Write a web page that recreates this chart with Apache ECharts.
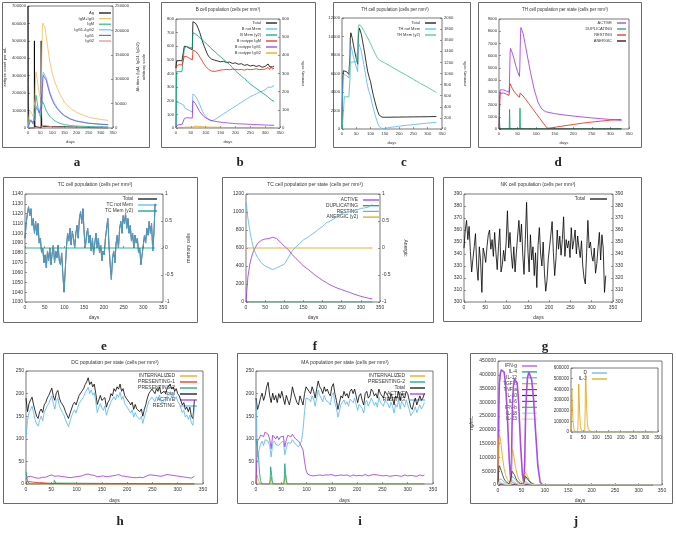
<!DOCTYPE html>
<html><head><meta charset="utf-8">
<script src="https://cdn.jsdelivr.net/npm/echarts@6/dist/echarts.min.js"></script>
<style>html,body{margin:0;padding:0;background:#fff}#c{width:676px;height:534px}</style>
</head><body><div id="c"></div>
<script>
// ---------- panel a : antigen and antibodies ----------
const aAgDay = [0, 0.6, 1.5, 3, 26, 26.4, 27.2, 28.5, 30, 54, 54.4, 55.2, 56.5, 58, 330];
const aAg = [700000, 250000, 30000, 0, 0, 500000, 150000, 10000, 0, 0, 500000, 150000, 10000, 0, 0];
const aAbDay = [0, 3, 6, 9, 12, 15, 18, 21, 24, 27, 29, 31, 33, 35, 38, 41, 44, 47, 50, 53, 55, 57, 59, 61, 63, 66, 70, 75, 80, 90, 100, 110, 120, 135, 150, 175, 200, 250, 300, 330];
const aIgMIgG = [0, 15000, 30000, 35000, 34000, 30000, 26000, 24000, 23000, 25000, 60000, 100000, 115000, 112000, 100000, 88000, 78000, 70000, 64000, 60000, 70000, 150000, 200000, 215000, 218000, 214000, 205000, 188000, 170000, 135000, 112000, 95000, 82000, 66000, 53000, 40000, 32000, 22000, 17500, 15500];
const aIgM = [0, 8000, 17000, 18000, 16000, 13000, 10000, 8000, 7000, 8000, 35000, 60000, 67000, 63000, 52000, 42000, 34000, 28000, 24000, 21000, 25000, 45000, 55000, 55000, 52000, 48000, 42000, 36000, 31000, 24000, 19000, 15000, 12000, 9000, 7000, 5000, 4000, 3000, 2500, 2300];
const aIgG12 = [0, 5000, 12000, 16000, 17000, 16000, 14000, 12000, 11000, 12000, 20000, 38000, 46000, 47000, 44000, 40000, 36000, 33000, 31000, 29000, 32000, 55000, 85000, 105000, 114000, 116000, 112000, 103000, 93000, 74000, 60000, 50000, 42000, 33000, 26000, 19000, 14500, 10000, 8000, 7000];
const aIgG1 = [0, 4000, 10000, 14000, 15000, 14000, 12500, 11000, 10000, 11000, 18000, 34000, 42000, 43000, 41000, 37000, 34000, 31000, 29000, 27000, 30000, 50000, 80000, 100000, 108000, 110000, 106000, 98000, 88000, 70000, 57000, 47000, 40000, 31000, 25000, 18000, 14000, 9500, 7600, 6800];
const aIgG2 = [0, 0, 500, 800, 800, 700, 600, 500, 500, 500, 800, 1500, 2000, 2200, 2200, 2000, 1800, 1600, 1500, 1400, 1600, 3000, 4500, 5200, 5500, 5400, 5000, 4500, 4000, 3200, 2600, 2100, 1800, 1400, 1100, 800, 600, 400, 300, 300];

// ---------- panel b : B cells ----------
const bDay = [0, 1, 2, 5, 10, 15, 20, 25, 27, 28, 30, 35, 40, 45, 50, 55, 56, 57, 60, 65, 70, 75, 80, 85, 90, 95, 100, 105, 110, 115, 120, 125, 130, 140, 150, 160, 170, 180, 190, 200, 210, 220, 230, 240, 250, 260, 270, 280, 290, 300, 305, 310, 315, 320, 325, 330];
const bTotal = [440, 470, 490, 495, 495, 495, 493, 492, 492, 600, 605, 598, 590, 585, 580, 575, 700, 780, 778, 770, 755, 730, 700, 665, 630, 600, 573, 545, 525, 512, 505, 500, 498, 492, 486, 490, 480, 484, 474, 478, 468, 472, 460, 465, 455, 460, 452, 458, 446, 452, 455, 470, 450, 462, 448, 455];
const bNotMem = [0, 190, 190, 188, 185, 180, 176, 170, 166, 150, 145, 140, 135, 128, 122, 118, 200, 250, 245, 235, 218, 195, 170, 145, 120, 100, 85, 72, 62, 55, 52, 55, 62, 75, 90, 105, 118, 132, 146, 160, 174, 188, 202, 216, 230, 240, 250, 262, 270, 280, 290, 300, 310, 298, 305, 312];
const bMem = [0, 150, 310, 310, 310, 310, 310, 310, 310, 440, 450, 448, 446, 444, 442, 440, 500, 525, 523, 518, 512, 505, 498, 490, 482, 475, 468, 460, 452, 444, 436, 428, 420, 406, 392, 378, 364, 350, 332, 315, 300, 286, 272, 258, 242, 230, 218, 206, 194, 183, 177, 170, 163, 156, 151, 146];
const bIgM = [440, 455, 465, 465, 465, 463, 462, 460, 460, 525, 530, 525, 518, 512, 505, 500, 540, 570, 568, 565, 555, 540, 522, 505, 485, 468, 452, 440, 430, 422, 418, 416, 415, 420, 425, 428, 430, 428, 432, 430, 428, 430, 425, 432, 428, 430, 435, 428, 430, 432, 440, 445, 430, 450, 432, 440];
const bIgG1 = [0, 15, 25, 25, 25, 25, 25, 25, 25, 70, 75, 75, 75, 74, 74, 73, 150, 200, 195, 180, 160, 140, 120, 105, 92, 82, 74, 68, 62, 58, 55, 52, 50, 46, 43, 40, 38, 36, 34, 32, 31, 30, 29, 28, 27, 26, 25, 24, 23, 22, 22, 21, 21, 20, 20, 20];
const bIgG2 = [0, 0, 2, 3, 3, 3, 3, 3, 3, 5, 6, 6, 6, 6, 6, 6, 10, 15, 15, 14, 13, 12, 11, 10, 9, 8, 8, 7, 7, 6, 6, 6, 5, 5, 5, 4, 4, 4, 4, 3, 3, 3, 3, 3, 3, 3, 2, 2, 2, 2, 2, 2, 2, 2, 2, 2];

// ---------- panel c : TH cells ----------
const cDay = [0, 1, 3, 5, 8, 12, 16, 20, 24, 27, 28, 29, 31, 33, 36, 40, 45, 50, 55, 56, 57, 59, 61, 64, 68, 72, 76, 80, 85, 90, 95, 100, 105, 110, 115, 120, 125, 130, 135, 140, 150, 175, 200, 225, 250, 275, 300, 330];
const cTotal = [0, 2500, 5500, 6300, 6400, 6300, 6200, 6000, 5900, 5800, 8000, 9800, 10400, 10300, 9800, 9100, 8300, 7600, 7000, 8500, 9800, 10600, 10900, 10700, 10200, 9500, 8800, 8100, 7100, 6200, 5600, 5100, 4300, 3600, 3000, 2400, 1900, 1500, 1300, 1280, 1270, 1280, 1290, 1300, 1310, 1320, 1330, 1350];
const cNotMem = [0, 2300, 5200, 5900, 6000, 5900, 5800, 5600, 5500, 5400, 7200, 8600, 9000, 8900, 8400, 7800, 7200, 6700, 6200, 7600, 8700, 9200, 9300, 8800, 8350, 7700, 7000, 6350, 5400, 4550, 4000, 3550, 2800, 2200, 1600, 1100, 650, 280, 90, 60, 80, 200, 300, 400, 480, 560, 640, 720];
const cMem = [0, 0, 0, 300, 580, 580, 580, 580, 580, 580, 900, 1200, 1210, 1210, 1210, 1210, 1210, 1210, 1210, 1500, 1800, 1880, 1890, 1875, 1850, 1815, 1775, 1735, 1690, 1640, 1590, 1540, 1480, 1420, 1370, 1320, 1270, 1245, 1230, 1220, 1190, 1115, 1040, 970, 895, 820, 750, 660];

// ---------- panel d : TH per state ----------
const dDay = [0, 1, 2, 3, 4, 5, 8, 12, 16, 20, 24, 27, 28, 29, 30, 31, 33, 36, 40, 45, 50, 55, 56, 57, 58, 59, 60, 62, 65, 70, 75, 80, 85, 90, 95, 100, 105, 110, 115, 120, 125, 130, 140, 150, 175, 200, 225, 250, 275, 300, 330];
const dActive = [0, 1000, 2500, 3200, 3300, 3300, 3250, 3200, 3150, 3100, 3050, 3000, 3500, 5000, 6300, 6600, 6500, 6200, 5800, 5200, 4700, 4300, 5000, 6500, 7800, 8300, 8400, 8200, 7800, 7000, 6200, 5400, 4600, 3900, 3200, 2700, 2200, 1900, 1650, 1500, 1420, 1380, 1320, 1260, 1150, 1060, 980, 910, 840, 780, 700];
const dResting = [0, 800, 2200, 2900, 3050, 3050, 3000, 2950, 2900, 2850, 2800, 2750, 3000, 3500, 3700, 3650, 3500, 3300, 3100, 2900, 2750, 2600, 2700, 2950, 3000, 2950, 2900, 2830, 2700, 2500, 2300, 2090, 1890, 1680, 1480, 1270, 1060, 860, 650, 450, 250, 70, 90, 140, 260, 370, 480, 570, 650, 720, 790];
const dDupDay = [0, 1, 2, 3, 27.5, 28.5, 29.5, 30.5, 55.5, 56.5, 57.5, 58.5, 330];
const dDup = [0, 900, 300, 0, 0, 1600, 200, 0, 0, 1700, 200, 0, 0];
const dAnerDay = [0, 1, 2, 4, 28, 29, 30, 32, 56, 57, 58, 60, 330];
const dAner = [0, 150, 100, 0, 0, 120, 60, 0, 0, 120, 60, 0, 0];

// ---------- panel e : TC cells (sampled every 3 days) ----------
const eNotMem = [1095, 1110, 1120, 1127, 1118, 1125, 1108, 1115, 1100, 1112,
  1098, 1110, 1090, 1095, 1080, 1085, 1070, 1078, 1065, 1082,
  1072, 1085, 1068, 1080, 1088, 1070, 1082, 1075, 1088, 1072,
  1068, 1080, 1058, 1040, 1062, 1085, 1100, 1092, 1105, 1088,
  1102, 1095, 1085, 1100, 1108, 1095, 1115, 1122, 1110, 1125,
  1100, 1085, 1098, 1105, 1090, 1098, 1082, 1095, 1078, 1090,
  1100, 1085, 1095, 1080, 1088, 1072, 1082, 1078, 1095, 1105,
  1115, 1088, 1068, 1053, 1075, 1082, 1070, 1090, 1098, 1085,
  1105, 1112, 1100, 1118, 1110, 1120, 1105, 1115, 1100, 1108,
  1092, 1100, 1085, 1098, 1090, 1095, 1080, 1085, 1068, 1078,
  1088, 1098, 1090, 1105, 1098, 1112, 1100, 1110, 1082, 1100,
  1130];
const eMemDay = [0, 330];
const eMem = [0, 0];

// ---------- panel f : TC per state ----------
const fDay = [0, 2, 5, 10, 15, 20, 25, 30, 40, 50, 60, 70, 80, 90, 100, 110, 120, 130, 140, 150, 160, 170, 180, 190, 200, 210, 215, 220, 230, 240, 250, 260, 270, 280, 290, 300, 310, 320, 330];
const fActive = [0, 120, 280, 420, 510, 570, 610, 650, 685, 700, 705, 720, 705, 665, 620, 585, 530, 485, 445, 400, 370, 335, 300, 270, 240, 215, 205, 190, 170, 152, 137, 122, 107, 92, 77, 63, 52, 42, 35];
const fResting = [1100, 1050, 930, 790, 680, 590, 540, 495, 435, 400, 380, 360, 380, 400, 420, 490, 565, 610, 650, 690, 715, 745, 775, 810, 840, 880, 860, 900, 925, 955, 985, 995, 1005, 1015, 1025, 1040, 1045, 1055, 1085];
const fFlatDay = [0, 330];
const fDup = [0, 0];
const fAner = [0, 0];

// ---------- panel g : NK cells (every 3 days) ----------
const gTotal = [345, 360, 368, 352, 363, 342, 325, 336, 346, 357,
  330, 318, 346, 334, 308, 345, 340, 333, 346, 356,
  360, 344, 352, 338, 358, 341, 327, 346, 361, 325,
  331, 343, 334, 350, 376, 345, 358, 340, 328, 346,
  325, 341, 355, 368, 350, 365, 340, 323, 352, 383,
  344, 325, 356, 335, 346, 322, 341, 312, 347, 362,
  340, 330, 350, 324, 309, 318, 336, 346, 356, 367,
  341, 322, 336, 360, 344, 355, 339, 352, 371, 338,
  352, 345, 351, 337, 362, 344, 351, 360, 340, 355,
  345, 337, 351, 330, 320, 315, 341, 368, 345, 350,
  339, 334, 345, 324, 332, 346, 358, 335, 356, 345,
  308, 322];

// ---------- panel h : DC per state (every 3 days) ----------
const hTotal = [190, 160, 178, 186, 192, 175, 162, 150, 145, 160,
  166, 158, 175, 180, 190, 196, 200, 212, 195, 185,
  202, 207, 190, 181, 176, 170, 160, 156, 145, 156,
  166, 176, 181, 175, 186, 196, 200, 206, 211, 220,
  226, 235, 220, 226, 215, 221, 200, 176, 186, 196,
  185, 181, 191, 170, 181, 186, 200, 195, 211, 205,
  215, 210, 221, 205, 211, 196, 190, 186, 181, 175,
  181, 165, 176, 166, 170, 160, 166, 150, 165, 176,
  190, 200, 205, 210, 205, 200, 211, 205, 215, 200,
  196, 205, 200, 211, 215, 221, 210, 215, 205, 211,
  200, 195, 185, 175, 180, 165, 170, 160, 170, 150,
  145, 185];
const hResting = [105, 140, 158, 165, 172, 158, 142, 133, 128, 141,
  150, 140, 158, 162, 173, 178, 182, 195, 178, 166,
  185, 190, 172, 165, 158, 153, 142, 140, 127, 138,
  150, 158, 164, 157, 168, 178, 183, 188, 193, 202,
  208, 214, 200, 208, 197, 202, 182, 158, 170, 178,
  168, 163, 173, 152, 164, 168, 182, 178, 193, 186,
  198, 192, 203, 187, 194, 178, 173, 168, 164, 157,
  164, 148, 158, 150, 153, 143, 150, 134, 148, 158,
  172, 183, 187, 192, 188, 182, 193, 188, 197, 183,
  178, 188, 183, 193, 197, 203, 192, 198, 187, 193,
  183, 178, 168, 158, 163, 148, 153, 143, 152, 135,
  130, 170];
const hActive = [10, 16, 18, 17, 18, 15, 14, 13, 12, 13,
  14, 15, 16, 15, 17, 18, 19, 20, 18, 17,
  19, 18, 16, 17, 15, 16, 14, 15, 13, 14,
  16, 15, 17, 16, 18, 17, 19, 18, 20, 21,
  23, 22, 21, 20, 18, 19, 17, 16, 18, 17,
  16, 18, 17, 16, 18, 17, 19, 18, 20, 19,
  20, 21, 19, 18, 19, 17, 18, 16, 17, 15,
  16, 14, 15, 14, 16, 15, 13, 14, 16, 17,
  19, 20, 19, 20, 18, 19, 20, 18, 19, 17,
  18, 19, 20, 21, 19, 20, 22, 19, 20, 18,
  19, 17, 18, 16, 17, 15, 16, 14, 15, 13,
  14, 17];
const hPres2Day = [0, 1, 2, 4, 6, 8, 27, 28, 29, 31, 33, 55, 56, 57, 59, 61, 333];
const hPres2 = [27, 22, 12, 4, 1, 0, 0, 4, 3, 1, 0, 0, 8, 6, 2, 0, 0];
const hPres1Day = [0, 1, 3, 8, 15, 25, 30, 40, 50, 60, 80, 100, 333];
const hPres1 = [0, 5, 6, 5, 4, 3, 3, 2, 1.5, 1, 0.5, 0, 0];
const hIntDay = [0, 1, 2, 4, 28, 29, 31, 56, 57, 59, 333];
const hInt = [0, 3, 1, 0, 0, 2, 0, 0, 2, 0, 0];

// ---------- panel i : MA per state (every 3 days) ----------
const iTotal = [190, 165, 176, 191, 201, 185, 196, 215, 225, 196,
  180, 201, 186, 196, 180, 200, 190, 205, 190, 176,
  196, 185, 175, 191, 215, 201, 190, 180, 175, 195,
  185, 175, 200, 215, 210, 205, 200, 215, 205, 190,
  210, 228, 215, 210, 200, 215, 205, 210, 200, 195,
  215, 222, 200, 185, 165, 180, 195, 190, 205, 195,
  200, 190, 205, 210, 200, 210, 195, 180, 195, 200,
  185, 175, 200, 205, 190, 195, 210, 205, 195, 200,
  190, 210, 200, 195, 190, 205, 200, 195, 185, 200,
  190, 175, 195, 190, 205, 185, 200, 195, 190, 205,
  200, 185, 170, 165, 180, 190, 175, 185, 195, 185,
  190, 200];
const iActive = [0, 95, 100, 108, 112, 105, 115, 118, 110, 100,
  78, 108, 112, 100, 106, 98, 104, 102, 106, 82,
  98, 108, 112, 104, 110, 105, 100, 96, 95, 90,
  88, 75, 50, 30, 22, 20, 19, 21, 18, 20,
  19, 21, 20, 18, 19, 21, 20, 19, 20, 22,
  21, 19, 18, 17, 19, 18, 20, 17, 19, 18,
  20, 19, 17, 18, 20, 19, 18, 17, 19, 20,
  18, 19, 21, 20, 18, 19, 20, 22, 21, 19,
  20, 18, 19, 17, 18, 20, 19, 18, 17, 19,
  18, 17, 19, 20, 18, 19, 17, 18, 20, 19,
  18, 20, 19, 17, 18, 19, 17, 18, 20, 19,
  18, 20];
const iResting = [185, 60, 75, 88, 95, 85, 98, 100, 95, 85,
  60, 90, 95, 88, 92, 85, 90, 92, 95, 65,
  80, 92, 95, 90, 98, 95, 88, 85, 82, 80,
  95, 120, 160, 190, 192, 188, 182, 195, 188, 172,
  190, 208, 196, 190, 182, 196, 186, 190, 180, 175,
  196, 202, 180, 168, 148, 162, 176, 172, 186, 176,
  182, 172, 188, 192, 180, 190, 176, 163, 176, 180,
  167, 157, 180, 185, 172, 176, 190, 183, 174, 181,
  170, 192, 181, 178, 172, 185, 181, 177, 168, 181,
  172, 157, 176, 170, 187, 166, 183, 177, 170, 186,
  182, 165, 151, 148, 162, 171, 158, 167, 175, 166,
  172, 180];
const iPres2Day = [0, 3, 5, 7, 9, 11, 27, 28, 29, 30, 32, 34, 55, 56, 57, 58, 60, 62, 333];
const iPres2 = [100, 100, 60, 25, 8, 0, 0, 10, 38, 30, 8, 0, 0, 15, 45, 30, 8, 0, 0];
const iIntDay = [0, 2, 4, 6, 9, 27, 28, 30, 32, 55, 56, 58, 60, 333];
const iInt = [0, 20, 12, 5, 0, 0, 5, 15, 0, 0, 5, 20, 0, 0];

// ---------- panel j : cytokines ----------
const jDay = [0, 1, 2, 3, 5, 7, 10, 13, 16, 20, 24, 27, 28, 29, 30, 31, 33, 35, 38, 41, 44, 48, 52, 55, 56, 57, 58, 59, 61, 63, 66, 69, 72, 76, 80, 85, 90, 95, 100, 330];
const jIFNg = [0, 150000, 300000, 370000, 405000, 418000, 420000, 410000, 370000, 250000, 90000, 20000, 10000, 100000, 220000, 300000, 360000, 385000, 390000, 370000, 300000, 150000, 40000, 8000, 5000, 80000, 180000, 260000, 340000, 390000, 410000, 405000, 380000, 310000, 200000, 70000, 10000, 1000, 0, 0];
const jTGFb = [0, 120000, 170000, 180000, 170000, 140000, 95000, 60000, 38000, 20000, 10000, 6000, 20000, 80000, 120000, 130000, 115000, 90000, 60000, 38000, 22000, 12000, 6000, 3000, 10000, 35000, 48000, 50000, 42000, 32000, 20000, 12000, 7000, 3000, 1500, 500, 0, 0, 0, 0];
const jIL10 = [0, 40000, 62000, 70000, 65000, 52000, 35000, 22000, 14000, 8000, 4000, 2000, 8000, 35000, 50000, 55000, 48000, 38000, 25000, 15000, 9000, 5000, 2500, 1500, 5000, 22000, 33000, 35000, 30000, 23000, 15000, 9000, 5000, 2500, 1000, 500, 0, 0, 0, 0];
const jIL12 = [0, 10000, 20000, 25000, 26000, 22000, 16000, 11000, 7000, 4000, 2000, 1000, 5000, 20000, 32000, 35000, 30000, 24000, 16000, 10000, 6000, 3000, 1500, 800, 5000, 20000, 28000, 30000, 26000, 20000, 13000, 8000, 4500, 2000, 1000, 400, 0, 0, 0, 0];
const jMinorDay = [0, 3, 8, 15, 27, 31, 36, 45, 55, 59, 64, 75, 90, 330];
const jIL4 = [0, 3000, 2000, 800, 100, 3500, 2000, 500, 50, 3000, 1500, 300, 0, 0];
const jTNFa = [0, 2000, 1200, 400, 50, 2500, 1400, 300, 50, 2000, 1000, 200, 0, 0];
const jIL6 = [0, 6000, 4000, 1500, 200, 7000, 4000, 800, 100, 6000, 3000, 500, 0, 0];
const jIFNb = [0, 8000, 5000, 1500, 200, 10000, 5000, 1000, 100, 8000, 4000, 800, 0, 0];
const jIL18 = [0, 15000, 9000, 3000, 500, 18000, 10000, 2000, 300, 15000, 8000, 1500, 0, 0];
const jIL23 = [0, 12000, 7000, 2500, 400, 15000, 8000, 1500, 200, 12000, 6000, 1000, 0, 0];
const jInDay = [0, 1, 2, 3, 4, 5, 7, 10, 14, 20, 27, 28, 29, 30, 31, 32, 33, 35, 38, 42, 48, 55, 56, 57, 58, 59, 60, 61, 63, 66, 70, 76, 85, 100, 330];
const jIL2 = [0, 150000, 350000, 410000, 380000, 300000, 150000, 50000, 10000, 1000, 0, 5000, 150000, 380000, 450000, 420000, 330000, 170000, 50000, 10000, 1000, 0, 5000, 200000, 450000, 540000, 500000, 400000, 220000, 80000, 20000, 3000, 0, 0, 0];
const jDDay = [0, 2, 5, 10, 28, 30, 35, 56, 58, 63, 330];
const jD = [0, 8000, 5000, 0, 0, 8000, 0, 0, 8000, 0, 0];

// ---------- build ----------
const F = "'Liberation Sans', Arial, sans-serif";
const W = 676;
const grids = [], xAxis = [], yAxis = [], series = [], legend = [], title = [], graphic = [];
const tick = { inside: true, length: 2, lineStyle: { color: '#555', width: 0.6 } };
function grid(l, t, w, h) { grids.push({ left: l, top: t, width: w, height: h, show: true, borderColor: '#555', borderWidth: 0.8, backgroundColor: 'rgba(0,0,0,0)' }); return grids.length - 1; }
function lab(fs, m) { return { fontSize: fs, color: '#333', fontFamily: F, margin: m, formatter: v => String(v) }; }
function xax(gi, fs, o) {
  xAxis.push(Object.assign({ type: 'value', gridIndex: gi, min: 0, max: 350, interval: 50, name: 'days', nameLocation: 'middle', nameGap: 11,
    nameTextStyle: { fontSize: fs, color: '#333', fontFamily: F }, axisLine: { show: false }, axisTick: tick,
    axisLabel: lab(fs, 3), splitLine: { show: false } }, o || {}));
  return xAxis.length - 1;
}
function yax(gi, min, max, iv, fs, o) {
  yAxis.push(Object.assign({ type: 'value', gridIndex: gi, min: min, max: max, interval: iv, position: 'left', nameLocation: 'middle',
    nameTextStyle: { fontSize: fs, color: '#333', fontFamily: F, lineHeight: fs + 2 }, axisLine: { show: false }, axisTick: tick,
    axisLabel: lab(fs, 2), splitLine: { show: false } }, o || {}));
  return yAxis.length - 1;
}
function line(id, xi, yi, xs, ys, color, w) {
  series.push({ type: 'line', name: id, xAxisIndex: xi, yAxisIndex: yi, data: xs.map((x, k) => [x, ys[k]]),
    symbol: 'none', showSymbol: false, lineStyle: { color: color, width: w || 0.8 }, itemStyle: { color: color },
    silent: true, animation: false, z: 2 });
}
function leg(id, rx, cy, w, fs) {
  legend.push({ data: [id], formatter: n => n.split('|')[1], right: W - rx, top: cy - 3, align: 'right', orient: 'horizontal',
    icon: 'rect', itemWidth: w, itemHeight: 1.2, padding: 0, selectedMode: false, z: 1,
    textStyle: { fontSize: fs || 4.5, color: '#333', fontFamily: F, lineHeight: 6 } });
}
function ttl(text, cx, cy, fs) {
  title.push({ text: text, left: cx, top: cy - 3, textAlign: 'center', padding: 0,
    textStyle: { fontSize: fs || 5, fontWeight: 'normal', color: '#333', fontFamily: F, lineHeight: 6 } });
}
const every3 = arr => arr.map((_, k) => k * 3);

const BLK = '#000000', CYA = '#56b4e9', GRN = '#009e73', RED = '#e51e10', PUR = '#9b30e0', ORA = '#e69f00';

// panel a
const ga = grid(28, 6, 85, 122);
const xa = xax(ga, 4.2, { nameGap: 12 });
const ya = yax(ga, 0, 700000, 100000, 4.2, { name: 'antigen count per mL', nameGap: 19, nameRotate: 90 });
const ya2 = yax(ga, 0, 250000, 50000, 4.2, { position: 'right', name: 'Ab titers (IgM, IgG1, IgG2)\narbitrary scale', nameGap: 22, nameRotate: 90 });
line('a|Ag', xa, ya, aAgDay, aAg, BLK, 0.9);
line('a|IgM+IgG', xa, ya2, aAbDay, aIgMIgG, '#f2c46a', 0.9);
line('a|IgM', xa, ya2, aAbDay, aIgM, '#2db88c', 0.9);
line('a|IgG1+IgG2', xa, ya2, aAbDay, aIgG12, '#6cc4ef', 0.9);
line('a|IgG1', xa, ya2, aAbDay, aIgG1, '#7e5cf0', 0.9);
line('a|IgG2', xa, ya2, aAbDay, aIgG2, '#f08a7a', 0.9);
['a|Ag', 'a|IgM+IgG', 'a|IgM', 'a|IgG1+IgG2', 'a|IgG1', 'a|IgG2'].forEach((id, k) => leg(id, 111, 13 + k * 5.6, 12, 4));

// panel b
const gb = grid(176, 19, 104, 109);
const xb = xax(gb, 4.2, { nameGap: 12 });
const yb = yax(gb, 0, 800, 100, 4.2);
const yb2 = yax(gb, 0, 600, 100, 4.2, { position: 'right', name: 'memory cells', nameGap: 20, nameRotate: 90 });
line('b|Total', xb, yb, bDay, bTotal, BLK);
line('b|B not Mem', xb, yb, bDay, bNotMem, CYA);
line('b|B Mem (y2)', xb, yb2, bDay, bMem, GRN);
line('b|B isotype IgM', xb, yb, bDay, bIgM, RED);
line('b|B isotype IgG1', xb, yb, bDay, bIgG1, PUR);
line('b|B isotype IgG2', xb, yb, bDay, bIgG2, ORA);
['b|Total', 'b|B not Mem', 'b|B Mem (y2)', 'b|B isotype IgM', 'b|B isotype IgG1', 'b|B isotype IgG2'].forEach((id, k) => leg(id, 277, 23 + k * 6, 11, 4));
ttl('B cell population (cells per mm³)', 228, 10, 4.5);

// panel c
const gc = grid(342, 18, 100, 111);
const xc = xax(gc, 4.2, { nameGap: 12 });
const yc = yax(gc, 0, 12000, 2000, 4.2);
const yc2 = yax(gc, 0, 2000, 200, 4.2, { position: 'right', name: 'memory cells', nameGap: 20, nameRotate: 90 });
line('c|Total', xc, yc, cDay, cTotal, BLK);
line('c|TH not Mem', xc, yc, cDay, cNotMem, CYA);
line('c|TH Mem (y2)', xc, yc2, cDay, cMem, '#3cbf9a');
['c|Total', 'c|TH not Mem', 'c|TH Mem (y2)'].forEach((id, k) => leg(id, 436, 23 + k * 6, 11, 4));
ttl('TH cell population (cells per mm³)', 395, 10, 4.5);

// panel d
const gd = grid(499, 19, 130, 110);
const xd = xax(gd, 4.2, { nameGap: 12 });
const yd = yax(gd, 0, 9000, 1000, 4.2);
line('d|ACTIVE', xd, yd, dDay, dActive, PUR);
line('d|DUPLICATING', xd, yd, dDupDay, dDup, GRN);
line('d|RESTING', xd, yd, dDay, dResting, RED);
line('d|ANERGIC', xd, yd, dAnerDay, dAner, BLK);
['d|ACTIVE', 'd|DUPLICATING', 'd|RESTING', 'd|ANERGIC'].forEach((id, k) => leg(id, 626, 23 + k * 6, 9, 4));
ttl('TH cell population per state (cells per mm³)', 565, 10, 4.5);

// panel e
const ge = grid(25, 194, 138, 108);
const xe = xax(ge, 5, { nameGap: 13 });
const ye = yax(ge, 1030, 1140, 10, 5);
const ye2 = yax(ge, -1, 1, 0.5, 5, { position: 'right', name: 'memory cells', nameGap: 22, nameRotate: 90 });
const eDay = every3(eNotMem);
line('e|Total', xe, ye, eDay, eNotMem, BLK);
line('e|TC not Mem', xe, ye, eDay, eNotMem, CYA);
line('e|TC Mem (y2)', xe, ye2, eMemDay, eMem, GRN);
['e|Total', 'e|TC not Mem', 'e|TC Mem (y2)'].forEach((id, k) => leg(id, 157, 199 + k * 6, 19, 4.8));
ttl('TC cell population (cells per mm³)', 95, 185, 5);

// panel f
const gf = grid(246, 194, 134, 108);
const xf = xax(gf, 5, { nameGap: 13 });
const yf = yax(gf, 0, 1200, 200, 5);
const yf2 = yax(gf, -1, 1, 0.5, 5, { position: 'right', name: 'Anergic', nameGap: 22, nameRotate: -90 });
line('f|ACTIVE', xf, yf, fDay, fActive, PUR);
line('f|DUPLICATING', xf, yf, fFlatDay, fDup, GRN);
line('f|RESTING', xf, yf, fDay, fResting, CYA);
line('f|ANERGIC (y2)', xf, yf2, fFlatDay, fAner, ORA);
['f|ACTIVE', 'f|DUPLICATING', 'f|RESTING', 'f|ANERGIC (y2)'].forEach((id, k) => leg(id, 379, 200 + k * 5.7, 16, 4.8));
ttl('TC cell population per state (cells per mm³)', 315, 185, 5);

// panel g
const gg = grid(464, 194, 149, 108);
const xg = xax(gg, 5, { nameGap: 13 });
const yg = yax(gg, 300, 390, 10, 5);
const yg2 = yax(gg, 300, 390, 10, 5, { position: 'right' });
line('g|Total', xg, yg, every3(gTotal), gTotal, BLK);
leg('g|Total', 607, 199, 17, 4.8);
ttl('NK cell population (cells per mm³)', 538, 185, 5);

// panel h
const gh = grid(26, 371, 177, 113);
const xh = xax(gh, 5, { nameGap: 14 });
const yh = yax(gh, 0, 250, 50, 5);
const hDay = every3(hTotal);
line('h|INTERNALIZED', xh, yh, hIntDay, hInt, ORA);
line('h|PRESENTING-1', xh, yh, hPres1Day, hPres1, RED);
line('h|PRESENTING-2', xh, yh, hPres2Day, hPres2, GRN);
line('h|Total', xh, yh, hDay, hTotal, BLK);
line('h|ACTIVE', xh, yh, hDay, hActive, PUR);
line('h|RESTING', xh, yh, hDay, hResting, CYA);
['h|INTERNALIZED', 'h|PRESENTING-1', 'h|PRESENTING-2', 'h|Total', 'h|ACTIVE', 'h|RESTING'].forEach((id, k) => leg(id, 197, 376 + k * 6, 17, 5));
ttl('DC population per state (cells per mm³)', 115, 363, 5);

// panel i
const gi = grid(256, 371, 177, 113);
const xi = xax(gi, 5, { nameGap: 14 });
const yi = yax(gi, 0, 250, 50, 5);
const iDay = every3(iTotal);
line('i|INTERNALIZED', xi, yi, iIntDay, iInt, ORA);
line('i|PRESENTING-2', xi, yi, iPres2Day, iPres2, GRN);
line('i|Total', xi, yi, iDay, iTotal, BLK);
line('i|ACTIVE', xi, yi, iDay, iActive, PUR);
line('i|RESTING', xi, yi, iDay, iResting, CYA);
['i|INTERNALIZED', 'i|PRESENTING-2', 'i|Total', 'i|ACTIVE', 'i|RESTING'].forEach((id, k) => leg(id, 425, 376 + k * 6, 15, 5));
ttl('MA population per state (cells per mm³)', 345, 363, 5);

// panel j
const gj = grid(498, 361, 164, 124);
const xj = xax(gj, 5, { nameGap: 13 });
const yj = yax(gj, 0, 450000, 50000, 5, { name: 'ng/mL', nameGap: 21, nameRotate: 90 });
line('j|IFN-g', xj, yj, jDay, jIFNg, '#a94be6', 1.6);
line('j|IL-4', xj, yj, jMinorDay, jIL4, GRN);
line('j|IL-12', xj, yj, jDay, jIL12, CYA);
line('j|TGF-b', xj, yj, jDay, jTGFb, ORA);
line('j|TNF-a', xj, yj, jMinorDay, jTNFa, RED);
line('j|IL-10', xj, yj, jDay, jIL10, '#333333');
line('j|IL-6', xj, yj, jMinorDay, jIL6, PUR);
line('j|IFN-b', xj, yj, jMinorDay, jIFNb, '#4aa88a');
line('j|IL-18', xj, yj, jMinorDay, jIL18, '#9fd8f5');
line('j|IL-23', xj, yj, jMinorDay, jIL23, '#f4cf86');
['j|IFN-g', 'j|IL-4', 'j|IL-12', 'j|TGF-b', 'j|TNF-a', 'j|IL-10', 'j|IL-6', 'j|IFN-b', 'j|IL-18', 'j|IL-23'].forEach((id, k) => leg(id, 537, 366 + k * 5.9, 15, 4.8));
const gjn = grid(571, 368, 87, 64);
const xjn = xax(gjn, 4.6, { name: '' });
const yjn = yax(gjn, 0, 600000, 100000, 4.6);
line('k|D', xjn, yjn, jDDay, jD, CYA);
line('k|IL-2', xjn, yjn, jInDay, jIL2, ORA);
leg('k|D', 607, 373, 15, 4.8);
leg('k|IL-2', 607, 379, 15, 4.8);

// frames and panel letters
[[2, 2, 147, 145], [161, 2, 154, 145], [333, 2, 137, 145], [478, 2, 163, 145],
 [3, 177, 194, 145], [222, 177, 211, 145], [443, 177, 198, 144],
 [3, 353, 214, 150], [237, 353, 210, 150], [470, 353, 202, 150]].forEach(r => graphic.push({
  type: 'rect', silent: true, shape: { x: r[0] + 0.5, y: r[1] + 0.5, width: r[2], height: r[3] },
  style: { fill: 'none', stroke: '#6a6a6a', lineWidth: 1 } }));
[['a', 77, 163], ['b', 240, 163], ['c', 404, 163], ['d', 558, 163], ['e', 104, 347], ['f', 315, 347], ['g', 545, 347],
 ['h', 120, 522], ['i', 360, 522], ['j', 576, 522]].forEach(t => graphic.push({
  type: 'text', silent: true, x: t[1], y: t[2],
  style: { text: t[0], font: 'bold 13px "Liberation Serif", "DejaVu Serif", serif', fill: '#222', align: 'center', verticalAlign: 'middle' } }));

const chart = echarts.init(document.getElementById('c'), null, { renderer: 'canvas', width: 676, height: 534 });
chart.setOption({ backgroundColor: '#ffffff', animation: false, grid: grids, xAxis: xAxis, yAxis: yAxis, series: series, legend: legend, title: title, graphic: graphic });
</script></body></html>
